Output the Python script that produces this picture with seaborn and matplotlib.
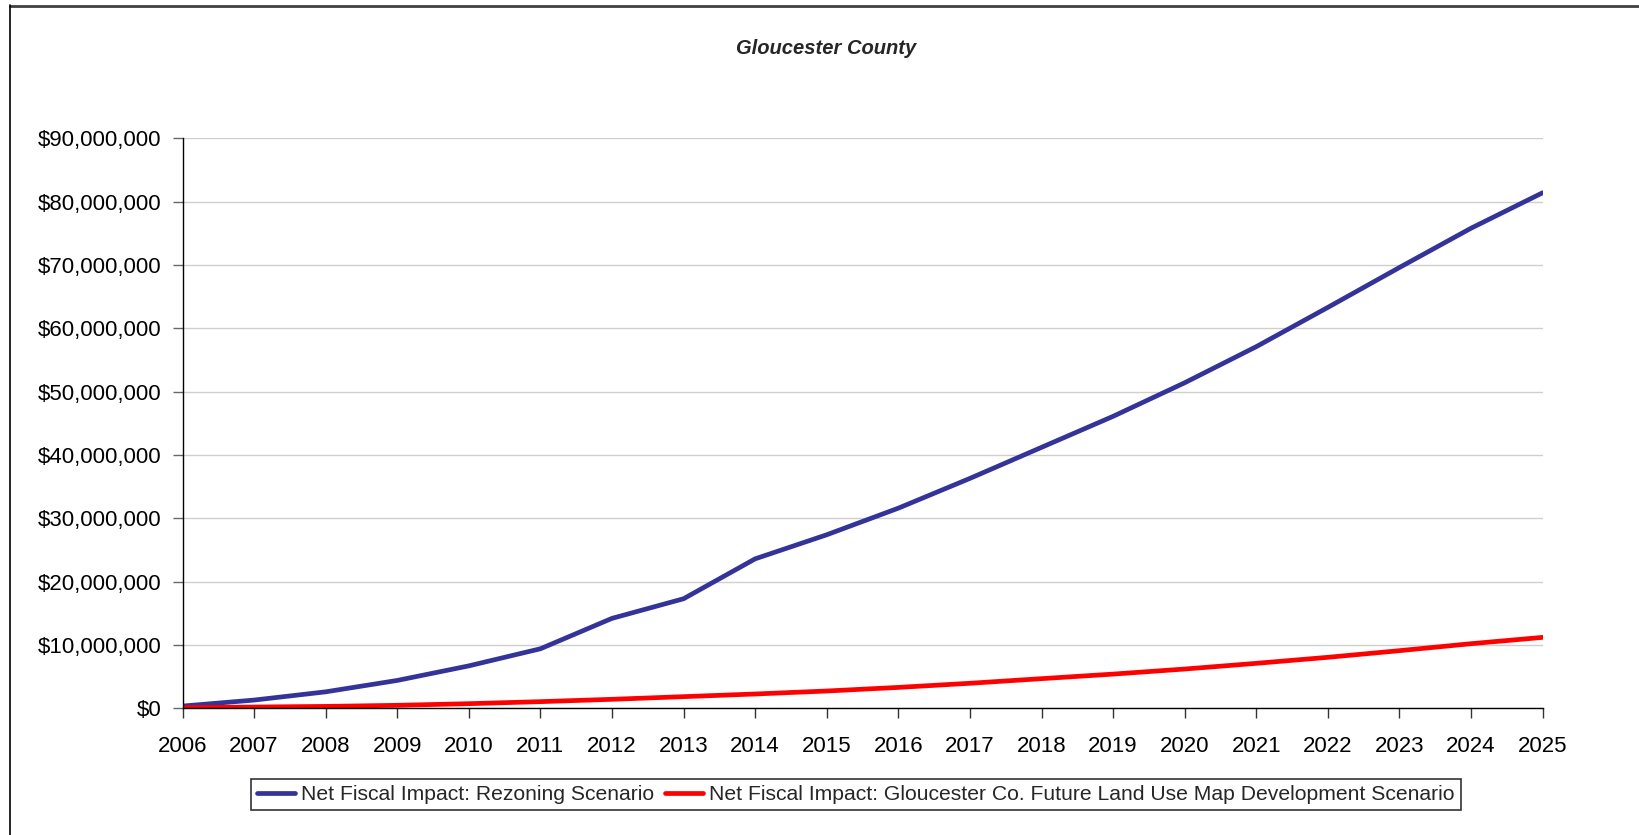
import matplotlib
matplotlib.use("Agg")
import matplotlib.pyplot as plt
from matplotlib.lines import Line2D
from matplotlib.ticker import FuncFormatter, MultipleLocator
import seaborn as sns
import pandas as pd

# ---- data (values in dollars) ----
years = list(range(2006, 2026))
rezoning_millions = [0.35, 1.3, 2.6, 4.4, 6.7, 9.4, 14.2, 17.3, 23.6, 27.4,
                     31.6, 36.3, 41.2, 46.1, 51.4, 57.1, 63.3, 69.6, 75.8, 81.4]
flum_millions = [0.1, 0.2, 0.3, 0.47, 0.73, 1.05, 1.42, 1.84, 2.26, 2.73,
                 3.3, 3.95, 4.68, 5.4, 6.2, 7.1, 8.05, 9.1, 10.2, 11.2]
series_names = ["Net Fiscal Impact: Rezoning Scenario",
                "Net Fiscal Impact: Gloucester Co. Future Land Use Map Development Scenario"]
title_text = "Gloucester County"

df = pd.DataFrame({
    "Year": years * 2,
    "Value": [v * 1e6 for v in rezoning_millions] + [v * 1e6 for v in flum_millions],
    "Series": [series_names[0]] * len(years) + [series_names[1]] * len(years),
})

sns.set_theme(style="white")
plt.rcParams["font.family"] = ["Liberation Sans", "DejaVu Sans"]

W, H = 1639, 835
fig = plt.figure(figsize=(W / 100, H / 100), dpi=100)
ax = fig.add_axes([182.5 / W, 1 - 708.3 / H, (1542.6 - 182.5) / W, (708.3 - 138.3) / H])

palette = {series_names[0]: "#333399", series_names[1]: "#FF0000"}
sns.lineplot(data=df, x="Year", y="Value", hue="Series", palette=palette,
             linewidth=3.4, ax=ax, legend=False)

ax.set_xlim(2006, 2025)
ax.set_ylim(0, 90e6)
ax.set_xticks(years)
ax.set_xticklabels([str(y) for y in years])
ax.yaxis.set_major_locator(MultipleLocator(10e6))
ax.yaxis.set_major_formatter(FuncFormatter(lambda v, p: "${:,.0f}".format(v)))
ax.set_xlabel("")
ax.set_ylabel("")

ax.grid(axis="y", color="#cfcfcf", linewidth=1.0)
ax.grid(axis="x", visible=False)
ax.set_axisbelow(True)
for side in ["top", "right"]:
    ax.spines[side].set_visible(False)
for side in ["left", "bottom"]:
    ax.spines[side].set_color("black")
    ax.spines[side].set_linewidth(1.0)

ax.tick_params(axis="x", direction="out", length=7, width=1, color="#333333",
               pad=13, labelsize=16, labelcolor="black", bottom=True)
ax.tick_params(axis="y", direction="out", length=7, width=1, color="#666666",
               pad=8, labelsize=16, labelcolor="black", left=True)

fig.text(826 / W, 1 - 49 / H, title_text, ha="center", va="center",
         fontsize=14.5, fontweight="bold", fontstyle="italic")

handles = [Line2D([0], [0], color=palette[n], linewidth=3.4) for n in series_names]
leg = fig.legend(handles, series_names, loc="center",
                 bbox_to_anchor=(856 / W, 1 - 794.5 / H), ncol=2,
                 frameon=True, fancybox=False, edgecolor="black",
                 fontsize=15.2, handlelength=1.8, handletextpad=0.3,
                 columnspacing=0.5, borderpad=0.3, borderaxespad=0)
leg.get_frame().set_linewidth(1.2)

# outer chart frame (top and left edges visible in the reference)
fig.add_artist(Line2D([10 / W, 1.0], [1 - 5.5 / H, 1 - 5.5 / H],
                      transform=fig.transFigure, color="#404040", linewidth=2))
fig.add_artist(Line2D([9.5 / W, 9.5 / W], [0.0, 1 - 5 / H],
                      transform=fig.transFigure, color="black", linewidth=1.2))

fig.savefig("out.png", dpi=100)
